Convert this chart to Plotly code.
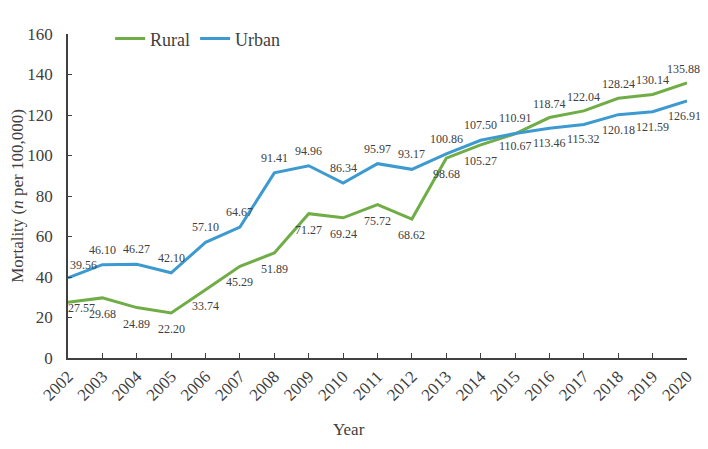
import plotly.graph_objects as go

years = list(range(2002, 2021))
rural = [27.57, 29.68, 24.89, 22.20, 33.74, 45.29, 51.89, 71.27, 69.24, 75.72,
         68.62, 98.68, 105.27, 110.67, 118.74, 122.04, 128.24, 130.14, 135.88]
urban = [39.56, 46.10, 46.27, 42.10, 57.10, 64.67, 91.41, 94.96, 86.34, 95.97,
         93.17, 100.86, 107.50, 110.91, 113.46, 115.32, 120.18, 121.59, 126.91]

# label offsets in px (style only): below = negative, above = positive
rural_dy = [-6] + [-16] * 12 + [-12] + [14] * 5
urban_dy = [13] + [15] * 13 + [-15] * 5
rural_dx = [13] + [0] * 17 + [-4]
urban_dx = [15] + [0] * 17 + [-3]

GREEN = "#70AD47"
BLUE = "#3D9AD1"
FONT = "Liberation Serif"
GREY = "#404040"

fig = go.Figure()
fig.add_trace(go.Scatter(x=years, y=rural, name="Rural", mode="lines",
                         line=dict(color=GREEN, width=3)))
fig.add_trace(go.Scatter(x=years, y=urban, name="Urban", mode="lines",
                         line=dict(color=BLUE, width=3)))

labels = []
for vals, dx, dy in [(rural, rural_dx, rural_dy), (urban, urban_dx, urban_dy)]:
    for yr, v, sx, sy in zip(years, vals, dx, dy):
        labels.append(dict(x=yr, y=v, text=f"{v:.2f}", showarrow=False,
                           xshift=sx, yshift=sy, xanchor="center", yanchor="middle",
                           font=dict(family=FONT, size=12, color=GREY)))

labels.append(dict(text="Year", x=0.454, y=-0.221, xref="paper", yref="paper",
                   xanchor="center", yanchor="middle", showarrow=False,
                   font=dict(size=17, family=FONT, color=GREY)))

# page body has an 8px margin, so the figure is shifted by 8px
fig.update_layout(
    width=700, height=441,
    margin=dict(l=60, r=21, t=15, b=91),
    paper_bgcolor="white", plot_bgcolor="white",
    font=dict(family=FONT, size=17, color=GREY),
    showlegend=True,
    legend=dict(orientation="h", x=0.068, y=0.985, xanchor="left", yanchor="middle",
                font=dict(size=18), bgcolor="rgba(0,0,0,0)", itemwidth=30,
                tracegroupgap=0),
    annotations=labels,
)

fig.update_xaxes(
    range=[2002, 2020], tickmode="array", tickvals=years,
    ticktext=[str(y) for y in years], tickangle=-45,
    showgrid=False, zeroline=False, showline=True, linecolor=GREY, linewidth=1.5,
    ticks="inside", ticklen=5, tickcolor=GREY, tickfont=dict(size=17),
    automargin=False,
)
fig.update_yaxes(
    range=[0, 160], dtick=20, showgrid=False, zeroline=False,
    showline=True, linecolor=GREY, linewidth=1.5,
    ticks="inside", ticklen=4, tickcolor=GREY, tickfont=dict(size=17),
    ticklabelstandoff=10, automargin=False,
    title=dict(text="Mortality (<i>n</i> per 100,000)", standoff=4, font=dict(size=17)),
)

fig.write_html("out.html")
